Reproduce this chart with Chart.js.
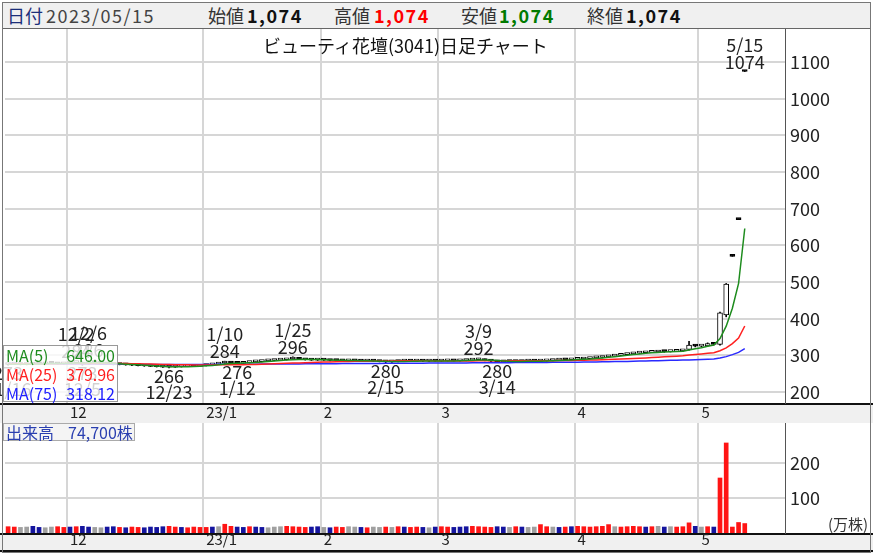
<!DOCTYPE html>
<html>
<head>
<meta charset="utf-8">
<script src="https://cdn.jsdelivr.net/npm/chart.js@4.4.0/dist/chart.umd.min.js"></script>
<style>
body { margin: 0; background: #fff; font-family: 'Noto Sans CJK JP', 'Liberation Sans', sans-serif; }
#wrap { position: relative; width: 873px; height: 556px; overflow: hidden; }
#frame { position: absolute; left: 2px; top: 2px; width: 869px; height: 551px; border: 1px solid #777; box-sizing: border-box; }
#head { position: absolute; left: 3px; top: 3px; width: 867px; height: 25px; background: #f0f0f0; border-bottom: 1px solid #666; }
.h { position: absolute; top: 0; line-height: 25px; font-size: 18px; white-space: nowrap; color: #333; }
.n { letter-spacing: 1.5px; }
.b { font-weight: bold; color: #111; }
#priceBox { position: absolute; left: 0; top: 29px; }
#volBox { position: absolute; left: 0; top: 423px; }
#title { position: absolute; left: 263px; top: 32px; font-size: 18px; color: #111; white-space: nowrap; }
#maLegend { position: absolute; left: 3px; top: 345px; width: 115px; height: 57px; background: rgba(255,255,255,0.8); border: 1px solid #999; box-sizing: border-box; font-size: 16px; }
#maLegend div { position: relative; height: 19px; line-height: 19px; }
#maLegend span { position: absolute; }
#volLegend { position: absolute; left: 3px; top: 423px; width: 132px; height: 18px; background: #f4f4f4; border: 1px solid #aaa; box-sizing: border-box; font-size: 16px; line-height: 16px; color: #2a3fb0; white-space: nowrap; }
#unit { position: absolute; left: 828px; top: 513px; font-size: 15px; color: #333; }
</style>
</head>
<body>
<div id="wrap">
  <div id="head">
    <span class="h" style="left:4px;color:#1b2f7a">日付</span>
    <span class="h n" style="left:43px;color:#444">2023/05/15</span>
    <span class="h" style="left:205px">始値</span>
    <span class="h b n" style="left:244px">1,074</span>
    <span class="h" style="left:331px">高値</span>
    <span class="h b n" style="left:371px;color:#ff0000">1,074</span>
    <span class="h" style="left:458px">安値</span>
    <span class="h b n" style="left:496px;color:#007a00">1,074</span>
    <span class="h" style="left:584px">終値</span>
    <span class="h b n" style="left:623px">1,074</span>
  </div>
  <div id="priceBox"><canvas id="priceChart" width="873" height="394"></canvas></div>
  <div id="volBox"><canvas id="volChart" width="873" height="130"></canvas></div>
  <div id="title">ビューティ花壇(3041)日足チャート</div>
  <div id="maLegend">
    <div style="color:#1e8c1e"><span style="left:2px">MA(5)</span><span style="right:2px">646.00</span></div>
    <div style="color:#ff2020"><span style="left:2px">MA(25)</span><span style="right:2px">379.96</span></div>
    <div style="color:#2020ff"><span style="left:2px">MA(75)</span><span style="right:2px">318.12</span></div>
  </div>
  <div id="volLegend"><span style="margin-left:2px">出来高</span><span style="margin-left:14px">74,700株</span></div>
  <div id="unit">(万株)</div>
  <div id="frame"></div>
</div>
<script>
// trading days 2022/11/16 - 2023/05/15
const dates = [
  '11/16','11/17','11/18','11/21','11/22','11/24','11/25','11/28','11/29','11/30',
  '12/1','12/2','12/5','12/6','12/7','12/8','12/9','12/12','12/13','12/14','12/15','12/16',
  '12/19','12/20','12/21','12/22','12/23','12/26','12/27','12/28','12/29','12/30',
  '1/4','1/5','1/6','1/10','1/11','1/12','1/13','1/16','1/17','1/18','1/19','1/20',
  '1/23','1/24','1/25','1/26','1/27','1/30','1/31',
  '2/1','2/2','2/3','2/6','2/7','2/8','2/9','2/10','2/13','2/14','2/15','2/16','2/17',
  '2/20','2/21','2/22','2/24','2/27','2/28',
  '3/1','3/2','3/3','3/6','3/7','3/8','3/9','3/10','3/13','3/14','3/15','3/16','3/17',
  '3/20','3/22','3/23','3/24','3/27','3/28','3/29','3/30','3/31',
  '4/3','4/4','4/5','4/6','4/7','4/10','4/11','4/12','4/13','4/14','4/17','4/18','4/19',
  '4/20','4/21','4/24','4/25','4/26','4/27','4/28',
  '5/1','5/2','5/8','5/9','5/10','5/11','5/12','5/15'
];
const emptySlots = 6;

const open = [
  275,276,276,275,276,278,277,279,278,277,
  279,280,281,277,283,280,278,277,275,276,274,273,272,271,270,269,268,268,269,270,271,270,
  272,274,276,279,281,279,278,280,282,283,285,286,287,288,290,291,289,288,287,
  288,287,286,286,285,286,285,284,285,284,283,282,283,284,285,284,285,284,285,
  284,285,286,285,286,287,288,289,286,284,282,283,284,283,284,285,284,285,286,287,288,288,
  289,290,291,293,294,296,298,300,302,304,306,307,308,309,310,310,311,312,316,327,
  325,326,332,330,410,570,670,1074
];
const high = [
  277,278,277,277,279,279,280,280,279,280,
  281,284,282,286,284,281,279,278,277,277,275,274,273,272,271,270,269,270,271,272,272,273,
  275,277,279,284,282,280,281,283,284,286,287,288,289,290,296,292,290,289,289,
  289,288,287,287,287,287,286,286,286,285,284,284,285,286,286,286,286,286,286,
  286,287,287,287,288,289,292,290,287,285,284,285,285,285,286,286,286,287,288,289,289,290,
  291,292,294,296,297,299,301,303,305,307,308,309,310,311,312,312,313,314,338,329,
  327,334,333,418,496,570,670,1074
];
const low = [
  273,275,274,274,275,276,276,277,276,276,
  278,279,273,276,279,277,276,274,274,273,272,271,270,269,268,267,266,267,268,269,269,269,
  271,273,275,278,278,276,277,279,281,282,284,285,286,287,288,288,287,286,286,
  286,285,285,284,284,284,283,283,283,282,280,281,282,283,283,283,283,283,283,
  283,284,284,284,285,286,287,285,283,280,281,282,282,282,283,283,283,284,285,286,287,287,
  288,289,290,292,293,295,297,299,301,303,305,306,307,308,308,309,310,311,314,323,
  323,325,328,328,405,570,670,1074
];
const close = [
  276,277,275,276,278,277,279,278,277,279,
  280,282,276,283,280,278,277,275,276,274,273,272,271,270,269,268,268,269,270,271,270,272,
  274,276,278,281,279,278,280,282,283,285,286,287,288,289,291,289,288,287,288,
  287,286,286,285,286,285,284,285,284,283,282,283,284,285,284,285,284,285,284,
  285,286,285,286,287,288,289,286,284,282,283,284,283,284,285,284,285,286,287,288,288,289,
  290,291,293,295,296,298,300,302,304,306,307,308,309,310,310,311,312,313,328,325,
  326,332,330,416,494,570,670,1074
];

const ma5 = [
  276,276,276,276,276.4,276.6,277,277.6,277.8,278,
  278.6,279.2,278.8,280,280.2,279.8,278.8,278.6,277.2,276,
  275,274,273.2,272,271,270,269.2,268.8,268.8,269.2,269.6,270.4,
  271.4,272.6,274,276.2,277.6,278.4,279.2,280,280.4,281.6,
  283.2,284.6,285.8,287,288.2,288.8,289,288.8,288.6,
  287.8,287.2,286.8,286.4,286,285.6,285.2,285,284.8,284.2,
  283.6,283.4,283.2,283.4,283.6,284.2,284.4,284.6,284.4,
  284.6,284.8,284.8,285.2,285.8,286.4,287,287.2,286.8,285.8,
  284.8,283.8,283.2,283.2,283.8,284,284.2,284.8,285.4,286,
  286.8,287.6,288.4,289.2,290.2,291.6,293,294.6,296.4,298.2,
  300,302,303.8,305.4,306.8,308,308.8,309.6,310.4,311.4,
  314.8,317.8,320.8,324.8,328.2,345.8,379.6,428.4,496,646
];
const ma25 = [
  277,277,277,277,277,277,277,277,277,277.5,
  277.6,277.8,277.8,278,278,278,277.9,277.8,277.6,277.4,
  277.1,276.8,276.5,276.1,275.7,275.3,274.9,274.6,274.3,274.1,273.9,273.8,
  273.8,273.9,274,274.2,274.3,274.4,274.6,274.9,275.3,275.8,
  276.3,276.9,277.5,278.1,278.8,279.4,280,280.6,281.2,
  281.7,282.1,282.5,282.9,283.3,283.6,283.9,284.2,284.4,284.6,
  284.7,284.8,284.9,285,285,285,285,284.9,284.8,
  284.8,284.8,284.7,284.7,284.7,284.8,284.9,284.9,284.9,284.9,
  284.9,285,285,285,285.1,285.1,285.2,285.3,285.4,285.6,
  285.8,286,286.3,286.6,287,287.4,287.9,288.5,289.1,289.8,
  290.5,291.3,292.1,293,293.9,294.8,295.8,296.8,297.8,298.9,
  300.6,302.1,303.6,305.4,307.2,312.4,320.4,331.8,347.2,380
];
const ma75 = [
  277.5,277.4,277.3,277.2,277.1,277,276.9,276.8,276.7,276.6,
  276.5,276.4,276.3,276.2,276.1,276,275.9,275.8,275.7,275.6,
  275.5,275.4,275.3,275.2,275.1,275,275,275,275,275,275,275.1,
  275.2,275.3,275.4,275.5,275.6,275.7,275.8,275.9,276,276.1,
  276.2,276.3,276.4,276.5,276.6,276.7,276.8,276.9,277,
  277.1,277.2,277.3,277.4,277.5,277.6,277.7,277.8,277.9,278,
  278.1,278.2,278.3,278.4,278.5,278.6,278.7,278.8,278.9,
  279,279.1,279.2,279.3,279.4,279.5,279.6,279.7,279.8,279.9,
  280,280.1,280.2,280.3,280.4,280.5,280.6,280.7,280.8,280.9,
  281,281.2,281.4,281.6,281.8,282,282.3,282.6,282.9,283.2,
  283.5,283.9,284.3,284.7,285.1,285.5,285.9,286.3,286.7,287.1,
  287.6,288.1,288.7,289.3,290,292.5,296.5,302,308,318.1
];

// volume in 万株, colour code: u = up, d = down, n = unchanged
const volume = [
  18,17,16,17,19,16,15,17,18,16,
  17,18,19,17,16,15,17,18,16,15,17,16,15,17,16,18,19,17,16,15,17,16,
  16,17,18,25,19,17,16,18,17,16,15,17,18,19,18,17,16,17,18,
  16,15,17,16,18,17,16,15,17,16,17,16,18,17,16,17,16,15,17,
  18,17,16,17,18,19,18,17,16,18,17,16,18,17,16,17,24,18,17,16,17,18,
  19,18,17,18,19,24,18,17,18,19,18,17,18,19,17,18,17,18,29,19,
  17,18,17,157,257,17,30,27
];
const volDir = [
  'u','u','n','n','d','d','n','n','u','u',
  'd','u','d','d','n','n','d','d','u','d','u','u','d','d','d','d','u','u','d','u','u','u',
  'u','d','n','u','u','d','d','u','d','d','n','n','n','u','u','u','u','d','d',
  'n','d','u','u','n','n','d','u','n','n','u','n','u','d','u','u','d','n','d',
  'u','u','d','d','d','u','u','u','u','d','d','n','u','d','n','n','u','u','n','d','u','d',
  'u','u','u','u','u','u','n','u','u','u','u','d','u','n','d','n','u','u','u','d',
  'n','u','d','u','u','u','u','u'
];

const monthStarts = ['12/1','1/4','2/1','3/1','4/3','5/1'];
const monthLabels = ['12','23/1','2','3','4','5'];
const priceTicks = [200,300,400,500,600,700,800,900,1000,1100];
const volTicks = [100,200];

const hiDates = ['12/2','12/6','1/10','1/25','3/9','5/15'];
const hiValues = [284,286,284,296,292,1074];
const loDates = ['11/16','12/5','12/23','1/12','2/15','3/14'];
const loValues = [273,273,266,276,280,280];

const labels = dates.concat(Array(emptySlots).fill(''));
const FONT = "'Noto Sans CJK JP', 'Liberation Sans', sans-serif";
Chart.defaults.font.family = FONT;
Chart.defaults.color = '#222';

const gridColor = '#d6d6d6';
const isMonthStart = i => monthStarts.includes(labels[i]);

function noPad(s) {
  s.paddingTop = 0;
  s.paddingBottom = 0;
  s.paddingLeft = 0;
  s.paddingRight = 0;
}

function xScale(labelPad) {
  return {
    type: 'category',
    offset: true,
    grid: {
      offset: true,
      drawTicks: false,
      lineWidth: 2,
      color: ctx => isMonthStart(ctx.index) ? gridColor : 'rgba(0,0,0,0)'
    },
    border: { display: false },
    ticks: {
      autoSkip: false,
      maxRotation: 0,
      align: 'start',
      padding: labelPad,
      font: { size: 15 },
      color: '#222',
      callback: (v, i) => {
        const k = monthStarts.indexOf(labels[i]);
        return k >= 0 ? monthLabels[k] : '';
      }
    },
    afterFit: s => { s.height = 20; noPad(s); }
  };
}

function yScale(min, max, tickList) {
  return {
    position: 'right',
    min: min,
    max: max,
    afterBuildTicks: s => { s.ticks = tickList.map(v => ({ value: v })); },
    grid: { color: gridColor, lineWidth: 2, drawTicks: false },
    border: { display: true, color: '#555', width: 1 },
    ticks: { padding: 5, font: { size: 18 }, color: '#222', callback: v => String(v) },
    afterFit: s => { s.width = 88; noPad(s); }
  };
}

// grey strip under each pane where the month labels sit
function stripPlugin(bottomLine) {
  return {
    id: 'strip',
    beforeDraw(chart) {
      const c = chart.ctx, a = chart.chartArea;
      c.save();
      c.fillStyle = '#f0f0f0';
      c.fillRect(0, a.bottom, chart.width, chart.height - a.bottom);
      c.fillStyle = '#111';
      c.fillRect(0, a.bottom, chart.width, 2);
      if (bottomLine) c.fillRect(0, chart.height - 3, chart.width, 2);
      c.restore();
    }
  };
}

const markPlugin = {
  id: 'marks',
  afterDatasetsDraw(chart) {
    const c = chart.ctx, xs = chart.scales.x, ys = chart.scales.y;
    c.save();
    c.font = '18px ' + FONT;
    c.fillStyle = '#222';
    c.textAlign = 'center';
    c.textBaseline = 'alphabetic';
    hiDates.forEach((d, k) => {
      const x = xs.getPixelForValue(dates.indexOf(d));
      const y = ys.getPixelForValue(hiValues[k]);
      c.fillText(String(hiValues[k]), x, y - 3);
      c.fillText(d, x, y - 20);
    });
    loDates.forEach((d, k) => {
      const x = xs.getPixelForValue(dates.indexOf(d));
      const y = ys.getPixelForValue(loValues[k]);
      c.fillText(String(loValues[k]), x, y + 15);
      c.fillText(d, x, y + 31);
    });
    c.restore();
  }
};

const maLine = (data, color) => ({
  type: 'line',
  data: data,
  borderColor: color,
  borderWidth: 1.5,
  pointRadius: 0,
  tension: 0,
  order: 0
});

new Chart(document.getElementById('priceChart'), {
  data: {
    labels: labels,
    datasets: [
      maLine(ma5, '#1e8c1e'),
      maLine(ma25, '#ff2020'),
      maLine(ma75, '#2a2aff'),
      {
        type: 'bar',
        data: dates.map((d, i) => [open[i], close[i]]),
        grouped: false,
        barThickness: 5,
        minBarLength: 2,
        borderSkipped: false,
        borderWidth: 1,
        borderColor: '#000',
        backgroundColor: dates.map((d, i) => close[i] > open[i] ? '#fff' : '#000'),
        order: 1
      },
      {
        type: 'bar',
        data: dates.map((d, i) => [low[i], high[i]]),
        grouped: false,
        barThickness: 1,
        minBarLength: 1,
        backgroundColor: '#000',
        order: 2
      }
    ]
  },
  options: {
    responsive: false,
    animation: false,
    devicePixelRatio: 1,
    layout: { padding: { left: 5, right: 0, top: 0, bottom: 0 } },
    plugins: { legend: { display: false }, tooltip: { enabled: false } },
    scales: { x: xScale(0), y: yScale(170, 1190, priceTicks) }
  },
  plugins: [stripPlugin(false), markPlugin]
});

const dirColor = { u: '#ff1414', d: '#14149e', n: '#a0a0a0' };

new Chart(document.getElementById('volChart'), {
  type: 'bar',
  data: {
    labels: labels,
    datasets: [{
      data: volume,
      barThickness: 4,
      backgroundColor: volDir.map(k => dirColor[k])
    }]
  },
  options: {
    responsive: false,
    animation: false,
    devicePixelRatio: 1,
    layout: { padding: { left: 5, right: 0, top: 0, bottom: 0 } },
    plugins: { legend: { display: false }, tooltip: { enabled: false } },
    scales: { x: xScale(-3), y: yScale(0, 314, volTicks) }
  },
  plugins: [stripPlugin(true)]
});
</script>
</body>
</html>
